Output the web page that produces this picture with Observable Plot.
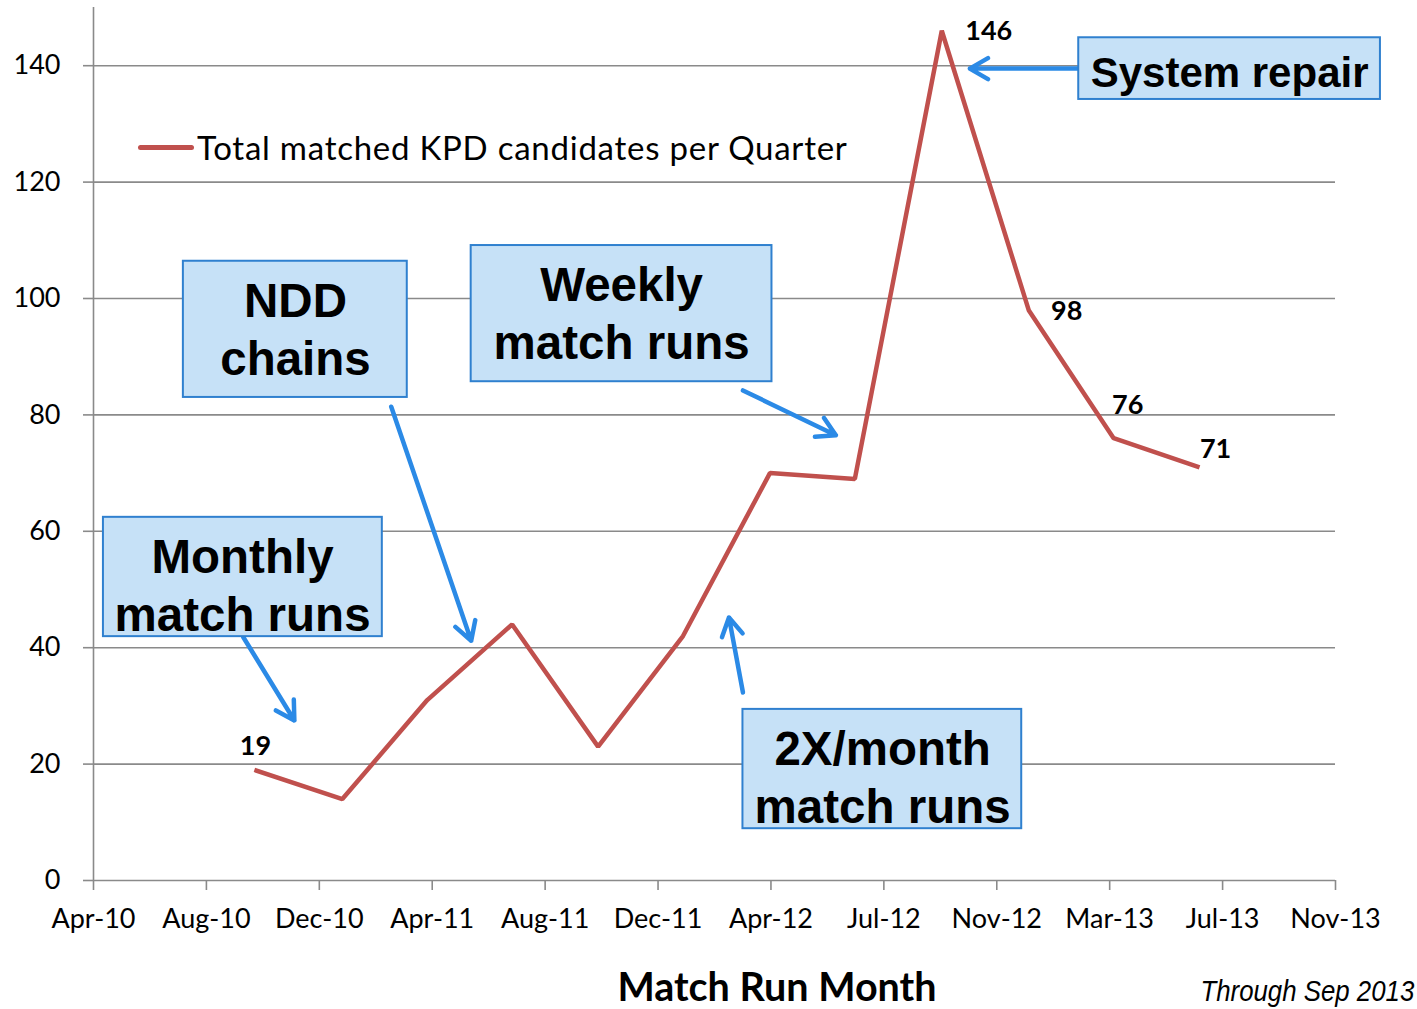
<!DOCTYPE html>
<html>
<head>
<meta charset="utf-8">
<script src="https://cdn.jsdelivr.net/npm/d3@7"></script>
<script src="https://cdn.jsdelivr.net/npm/@observablehq/plot@0.6"></script>
<style>
  html, body { margin: 0; padding: 0; background: #fff; }
  #wrap { position: relative; width: 1417px; height: 1009px; overflow: hidden; }
  #legend { position: absolute; left: 138px; top: 127px; height: 40px; line-height: 40px; font-family: Lato, sans-serif; font-size: 33px; letter-spacing: 0.75px; color: #000; white-space: nowrap; display: flex; align-items: center; }
  #legend .sw { display: inline-block; width: 56px; height: 5px; background: #c0504d; border-radius: 3px; margin-right: 3px; }
  #xtitle { position: absolute; left: 777px; top: 966px; height: 40px; line-height: 40px; transform: translateX(-50%); font-family: Lato, sans-serif; font-weight: bold; font-size: 39.5px; white-space: nowrap; }
  #caption { position: absolute; right: 3px; top: 974px; height: 34px; line-height: 34px; transform: scaleX(0.89); transform-origin: right center; font-family: "Liberation Sans", Arial, sans-serif; font-style: italic; font-size: 29px; white-space: nowrap; }
</style>
</head>
<body>
<div id="wrap">
  <div id="chart"></div>
  <div id="legend"><span class="sw"></span>Total matched KPD candidates per Quarter</div>
  <div id="xtitle">Match Run Month</div>
  <div id="caption">Through Sep 2013</div>
</div>
<script>
// ---- data ----
const xTickLabels = ["Apr-10","Aug-10","Dec-10","Apr-11","Aug-11","Dec-11","Apr-12","Jul-12","Nov-12","Mar-13","Jul-13","Nov-13"];
const yTicks = [0, 20, 40, 60, 80, 100, 120, 140];
// quarter positions measured along the (evenly spaced) month axis, in tick units
const quarterPos = [1.425, 2.204, 2.956, 3.708, 4.469, 5.221, 5.991, 6.743, 7.513, 8.283, 9.035, 9.796];
const matched = [19, 14, 31, 44, 23, 42, 70, 69, 146, 98, 76, 71];
const labeledIdx = [0, 8, 9, 10, 11];

// annotation callouts (box, text centre and arrow, in data units)
const noteText = ["Monthly\nmatch runs", "NDD\nchains", "Weekly\nmatch runs", "2X/month\nmatch runs", "System repair"];
const noteBox = [
  [0.088, 2.558, 41.9, 62.4],
  [0.796, 2.779, 83.0, 106.4],
  [3.345, 6.009, 85.7, 109.1],
  [5.752, 8.221, 8.9, 29.4],
  [8.726, 11.398, 134.2, 144.8]
];
const noteCenter = [[1.320, 51.0], [1.789, 95.1], [4.677, 97.8], [6.989, 18.0], [10.062, 138.7]];
const noteArrow = [
  [1.327, 41.8, 1.779, 27.5],
  [2.637, 81.4, 3.345, 41.2],
  [5.752, 84.2, 6.575, 76.5],
  [5.752, 32.3, 5.628, 45.2],
  [8.726, 139.5, 7.761, 139.5]
];

// ---- build ----
const points = matched.map((v, i) => ({x: quarterPos[i], y: v, label: String(v)}));
const notes = noteText.map((t, i) => ({
  text: t,
  x1: noteBox[i][0], x2: noteBox[i][1], y1: noteBox[i][2], y2: noteBox[i][3],
  tx: noteCenter[i][0], ty: noteCenter[i][1],
  ax1: noteArrow[i][0], ay1: noteArrow[i][1], ax2: noteArrow[i][2], ay2: noteArrow[i][3],
  big: i < 4
}));
const labelOffsets = {0: [1, -24], 8: [47, 1], 9: [38, 1], 10: [14, -33], 11: [16, -18]};

const gridColor = "#8a8a8a";
const red = "#c0504d";
const blue = "#2b8ae6";

const marks = [
  Plot.gridY(yTicks.filter(d => d > 0), {stroke: gridColor, strokeOpacity: 1, strokeWidth: 1.6}),
  Plot.ruleX([0], {stroke: gridColor, strokeWidth: 1.6}),
  Plot.ruleY([0], {stroke: gridColor, strokeWidth: 1.6}),
  Plot.axisY({ticks: yTicks, tickSize: 10, tickPadding: 23, stroke: gridColor, strokeWidth: 1.6, fill: "#000", fontSize: 27, label: null}),
  Plot.axisX({ticks: xTickLabels.map((_, i) => i), tickFormat: i => xTickLabels[i], tickSize: 10, tickPadding: 18, stroke: gridColor, strokeWidth: 1.6, fill: "#000", fontSize: 27, label: null}),
  Plot.line(points, {x: "x", y: "y", stroke: red, strokeWidth: 4.5, strokeLinejoin: "miter", strokeLinecap: "butt"}),
  Plot.arrow(notes, {x1: "ax1", y1: "ay1", x2: "ax2", y2: "ay2", bend: 0, stroke: blue, strokeWidth: 4.5, headLength: 7}),
  Plot.rect(notes, {x1: "x1", x2: "x2", y1: "y1", y2: "y2", fill: "#c6e1f7", stroke: "#2f80cf", strokeWidth: 2}),
  Plot.text(notes.filter(d => d.big), {x: "tx", y: "ty", text: "text", fontFamily: "'Liberation Sans', Arial, sans-serif", fontWeight: "bold", fontSize: 47.5, lineHeight: 1.22, fill: "#000"}),
  Plot.text(notes.filter(d => !d.big), {x: "tx", y: "ty", text: "text", fontFamily: "'Liberation Sans', Arial, sans-serif", fontWeight: "bold", fontSize: 42, fill: "#000"}),
  ...labeledIdx.map(i => Plot.text([points[i]], {x: "x", y: "y", text: "label", dx: labelOffsets[i][0], dy: labelOffsets[i][1], fontFamily: "Lato, sans-serif", fontWeight: "bold", fontSize: 27, fill: "#000"}))
];

const chart = Plot.plot({
  width: 1417,
  height: 1009,
  marginLeft: 93,
  marginRight: 82,
  marginTop: 7,
  marginBottom: 129,
  style: {fontFamily: "Lato, sans-serif", fontSize: "27px", background: "#fff", color: "#000"},
  x: {type: "linear", domain: [0, 11], axis: null},
  y: {type: "linear", domain: [0, 150], axis: null},
  marks
});
document.getElementById("chart").appendChild(chart);
</script>
</body>
</html>
